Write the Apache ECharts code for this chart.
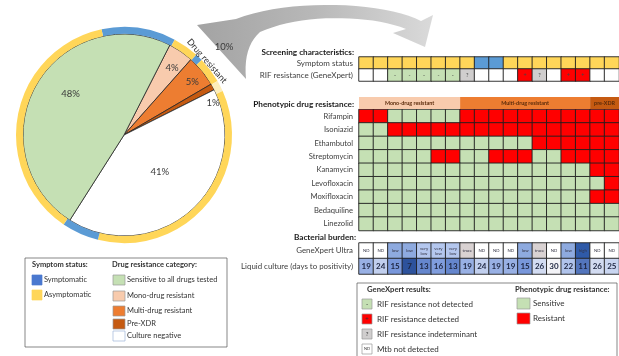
<!DOCTYPE html>
<html>
<head>
<meta charset="utf-8">
<script src="https://cdn.jsdelivr.net/npm/echarts@6/dist/echarts.min.js"></script>
<style>
html, body { margin: 0; padding: 0; background: #fff; }
#chart { width: 619px; height: 356px; }
</style>
</head>
<body>
<div id="chart"></div>
<script>
// patients (columns of the table)
var patients = ['1', '2', '3', '4', '5', '6', '7', '8', '9', '10', '11', '12', '13', '14', '15', '16', '17', '18'];

// screening characteristics
var screeningRows = ['Symptom status', 'RIF resistance (GeneXpert)'];
var symptomStatus = ['A', 'A', 'A', 'A', 'A', 'A', 'A', 'A', 'S', 'S', 'A', 'A', 'A', 'A', 'A', 'A', 'A', 'A'];
var rifXpert = ['', '', '-', '-', '-', '-', '-', '?', '', '', '', '+', '?', '', '+', '+', '', ''];

// phenotypic drug resistance (1 = resistant)
var resistanceGroups = ['Mono-drug resistant', 'Multi-drug resistant', 'pre-XDR'];
var groupSizes = [7, 9, 2];
var drugRows = ['Rifampin', 'Isoniazid', 'Ethambutol', 'Streptomycin', 'Kanamycin', 'Levofloxacin', 'Moxifloxacin', 'Bedaquiline', 'Linezolid'];
var rifampin     = [1, 1, 0, 0, 0, 0, 0, 1, 1, 1, 1, 1, 1, 1, 1, 1, 1, 1];
var isoniazid    = [0, 0, 1, 1, 1, 1, 1, 1, 1, 1, 1, 1, 1, 1, 1, 1, 1, 1];
var ethambutol   = [0, 0, 0, 0, 0, 0, 0, 0, 0, 0, 0, 0, 1, 1, 1, 1, 1, 1];
var streptomycin = [0, 0, 0, 0, 0, 1, 1, 0, 0, 1, 1, 1, 0, 0, 1, 1, 1, 1];
var kanamycin    = [0, 0, 0, 0, 0, 0, 0, 0, 0, 0, 0, 0, 0, 0, 0, 0, 1, 1];
var levofloxacin = [0, 0, 0, 0, 0, 0, 0, 0, 0, 0, 0, 0, 0, 0, 0, 0, 0, 1];
var moxifloxacin = [0, 0, 0, 0, 0, 0, 0, 0, 0, 0, 0, 0, 0, 0, 0, 0, 1, 1];
var bedaquiline  = [0, 0, 0, 0, 0, 0, 0, 0, 0, 0, 0, 0, 0, 0, 0, 0, 0, 0];
var linezolid    = [0, 0, 0, 0, 0, 0, 0, 0, 0, 0, 0, 0, 0, 0, 0, 0, 0, 0];

// bacterial burden
var burdenRows = ['GeneXpert Ultra', 'Liquid culture (days to positivity)'];
var xpertUltra = ['ND', 'ND', 'low', 'low', 'very low', 'very low', 'very low', 'trace', 'ND', 'ND', 'ND', 'low', 'trace', 'ND', 'low', 'high', 'ND', 'ND'];
var cultureDays = [19, 24, 15, 7, 13, 16, 13, 19, 24, 19, 19, 15, 26, 30, 22, 11, 26, 25];

// pie: drug resistance category (%)
var pieCategories = ['Mono-drug resistant', 'Multi-drug resistant', 'Pre-XDR', 'Culture negative', 'Sensitive to all drugs tested'];
var pieValues = [4, 5, 1, 41, 48];
// outer ring: symptom status, in degrees clockwise from the top-left blue arc
var ringStatus = ['S', 'A', 'S', 'A', 'pale', 'A', 'S', 'A'];
var ringDegrees = [40, 14, 4, 14, 6, 128, 20, 134];

var FONT = 'Lato, "Liberation Sans", sans-serif';
var GREEN = '#c5e0b4', RED = '#ff0000';
var symptomColors = { A: '#ffd659', S: '#5b9bd5', pale: '#fdeebb' };
var xpertColors = { '': '#ffffff', '-': GREEN, '+': RED, '?': '#d0cece' };
var ultraColors = { 'ND': '#ffffff', 'trace': '#d9d2d2', 'very low': '#b4c7ee', 'low': '#8eaadf', 'high': '#2f5aa8' };
var groupColors = ['#f8cbad', '#ed7d31', '#c55a11'];
var pieColors = ['#f8cbad', '#ed7d31', '#c55a11', '#ffffff', GREEN];
var pieLabelOffsets = [[18, -23], [27, -19], [42, -7], [0, -3], [-7, -15]];

function cells(values, row, colorOf, labelOf) {
    return values.map(function (v, i) {
        var item = { value: [i, row, typeof v === 'number' ? v : 0], name: labelOf ? labelOf(v) : '' };
        if (colorOf) item.itemStyle = { color: colorOf(v) };
        return item;
    });
}

var drugData = [];
[rifampin, isoniazid, ethambutol, streptomycin, kanamycin, levofloxacin, moxifloxacin, bedaquiline, linezolid].forEach(function (row, r) {
    drugData = drugData.concat(cells(row, r, function (v) { return v ? RED : GREEN; }));
});

var COLS_LEFT = 359, COLS_WIDTH = 261;
function grid(top, height) {
    return { left: COLS_LEFT, top: top, width: COLS_WIDTH, height: height };
}
function rowAxis(gi, rows, size) {
    return {
        type: 'category', gridIndex: gi, data: rows, inverse: true,
        axisLine: { show: false }, axisTick: { show: false },
        axisLabel: { fontSize: size || 7.6, color: '#404040', margin: 6, fontFamily: FONT }
    };
}
var cellStyle = { borderColor: '#1f1f1f', borderWidth: 0.9 };

var headerBars = resistanceGroups.map(function (g, i) {
    return {
        type: 'bar', name: g, xAxisIndex: 1, yAxisIndex: 1, stack: 'grp', barWidth: '100%',
        data: [groupSizes[i]], silent: true,
        itemStyle: { color: groupColors[i] },
        label: { show: true, position: 'inside', formatter: '{a}', fontSize: 5.4, fontWeight: 'bold', color: '#5a2a0a', fontFamily: FONT }
    };
});

function txt(x, y, text, opt) {
    opt = opt || {};
    return {
        type: 'text', x: x, y: y, rotation: opt.rotation || 0, z: 20,
        style: {
            text: text, fill: opt.color || '#333', fontSize: opt.size || 7.5, fontFamily: FONT,
            fontWeight: opt.bold ? 'bold' : 'normal', align: opt.align || 'left', verticalAlign: 'middle'
        }
    };
}
function box(x, y, w, h, fill, stroke) {
    return { type: 'rect', z: 20, shape: { x: x, y: y, width: w, height: h }, style: { fill: fill, stroke: stroke || '#9a9a9a', lineWidth: 0.7 } };
}

// outline of the grey "drug resistant" arrow, sampled from bezier pieces
function arrowOutline() {
    var pts = [[197, 25], [246, 79]];
    function quad(p0, c, p1) {
        for (var t = 0.1; t <= 1.001; t += 0.1) {
            var u = 1 - t;
            pts.push([u * u * p0[0] + 2 * u * t * c[0] + t * t * p1[0], u * u * p0[1] + 2 * u * t * c[1] + t * t * p1[1]]);
        }
    }
    function cubic(p0, c1, c2, p1) {
        for (var t = 0.05; t <= 1.001; t += 0.05) {
            var u = 1 - t;
            pts.push([
                u * u * u * p0[0] + 3 * u * u * t * c1[0] + 3 * u * t * t * c2[0] + t * t * t * p1[0],
                u * u * u * p0[1] + 3 * u * u * t * c1[1] + 3 * u * t * t * c2[1] + t * t * t * p1[1]
            ]);
        }
    }
    quad([246, 79], [243, 47], [260, 32]);
    cubic([260, 32], [300, 14], [368, 14], [406, 29]);
    pts.push([393, 33], [425, 47], [433, 15], [421, 21]);
    cubic([421, 21], [385, 2], [290, -2], [236, 19]);
    return pts;
}

var graphics = [
    {
        type: 'polygon', z: 5,
        shape: { points: arrowOutline() },
        style: { fill: { type: 'linear', x: 0, y: 0, x2: 1, y2: 0, colorStops: [
            { offset: 0, color: '#a3a3a3' }, { offset: 0.5, color: '#b8b8b8' }, { offset: 1, color: '#dadada' }
        ] } }
    },
    txt(224, 47, '10%', { size: 9.5, color: '#3a3a3a', align: 'center' }),
    txt(207, 61, 'Drug resistant', { size: 9, color: '#333', align: 'center', rotation: -0.85 }),
    txt(354, 52, 'Screening characteristics:', { bold: true, size: 8.2, align: 'right', color: '#1a1a1a' }),
    txt(354, 104, 'Phenotypic drug resistance:', { bold: true, size: 8.2, align: 'right', color: '#1a1a1a' }),
    txt(356, 237, 'Bacterial burden:', { bold: true, size: 8.2, align: 'right', color: '#1a1a1a' }),

    // left legend
    box(25, 258, 202, 89, 'none', '#555'),
    txt(32, 265, 'Symptom status:', { bold: true }),
    box(32, 275, 10, 10, '#4a78cf', '#4a78cf'), txt(44, 280, 'Symptomatic'),
    box(32, 290, 10, 10, '#ffd659', '#ffd659'), txt(44, 295, 'Asymptomatic'),
    txt(112, 265, 'Drug resistance category:', { bold: true }),
    box(113, 275, 12, 10, GREEN), txt(127, 280, 'Sensitive to all drugs tested'),
    box(113, 291, 12, 10, '#f8cbad'), txt(127, 296, 'Mono-drug resistant'),
    box(113, 306, 12, 10, '#ed7d31'), txt(127, 311, 'Multi-drug resistant'),
    box(113, 319, 12, 10, '#c55a11'), txt(127, 324, 'Pre-XDR'),
    box(113, 331, 12, 10, '#ffffff', '#9db4d8'), txt(127, 336, 'Culture negative'),

    // right legend
    box(357, 283, 260, 80, 'none', '#555'),
    txt(367, 290, 'GeneXpert results:', { bold: true, size: 7.7 }),
    box(362, 299, 10, 10, GREEN), txt(367, 304, '-', { align: 'center', size: 6 }), txt(377, 304, 'RIF resistance not detected', { size: 8 }),
    box(362, 314, 10, 10, RED), txt(367, 319, '+', { align: 'center', size: 6 }), txt(377, 319, 'RIF resistance detected', { size: 8 }),
    box(362, 329, 10, 10, '#d0cece'), txt(367, 334, '?', { align: 'center', size: 6 }), txt(377, 334, 'RIF resistance indeterminant', { size: 8 }),
    box(362, 344, 10, 10, '#ffffff'), txt(367, 349, 'ND', { align: 'center', size: 4 }), txt(377, 349, 'Mtb not detected', { size: 8 }),
    txt(515, 290, 'Phenotypic drug resistance:', { bold: true, size: 7.7 }),
    box(517, 298, 13, 11, GREEN), txt(533, 303, 'Sensitive', { size: 8 }),
    box(517, 313, 13, 11, RED), txt(533, 318, 'Resistant', { size: 8 })
];

var chart = echarts.init(document.getElementById('chart'));
chart.setOption({
    animation: false,
    textStyle: { fontFamily: FONT },
    grid: [grid(57, 24), grid(97, 12), grid(109.5, 121), grid(243, 31)],
    xAxis: [
        { type: 'category', gridIndex: 0, data: patients, show: false },
        { type: 'value', gridIndex: 1, min: 0, max: 18, show: false },
        { type: 'category', gridIndex: 2, data: patients, show: false },
        { type: 'category', gridIndex: 3, data: patients, show: false }
    ],
    yAxis: [
        rowAxis(0, screeningRows, 8),
        { type: 'category', gridIndex: 1, data: ['groups'], show: false },
        rowAxis(2, drugRows),
        rowAxis(3, burdenRows, 7.9)
    ],
    visualMap: {
        type: 'continuous', show: false, seriesIndex: 6, dimension: 2, min: 7, max: 30,
        inRange: { color: ['#2d529c', '#7595da', '#b3c5ec', '#f3f3f7'] }
    },
    series: [
        {
            type: 'heatmap', xAxisIndex: 0, yAxisIndex: 0, silent: true, itemStyle: cellStyle,
            data: cells(symptomStatus, 0, function (v) { return symptomColors[v]; })
                .concat(cells(rifXpert, 1, function (v) { return xpertColors[v]; }, function (v) { return v; })),
            label: { show: true, formatter: '{b}', fontSize: 5.5, color: '#444' }
        }
    ].concat(headerBars).concat([
        {
            type: 'heatmap', xAxisIndex: 2, yAxisIndex: 2, silent: true, itemStyle: cellStyle,
            data: drugData
        },
        {
            type: 'heatmap', xAxisIndex: 3, yAxisIndex: 3, silent: true, itemStyle: cellStyle,
            data: cells(xpertUltra, 0, function (v) { return ultraColors[v]; }, function (v) { return v.replace(' ', '\n'); }),
            label: { show: true, formatter: '{b}', fontSize: 4.3, lineHeight: 4.8, color: '#334' }
        },
        {
            type: 'heatmap', xAxisIndex: 3, yAxisIndex: 3, silent: true, itemStyle: cellStyle,
            data: cells(cultureDays, 1),
            label: {
                show: true, fontSize: 8, fontWeight: 'bold', color: '#1d2540',
                formatter: function (p) { return p.value[2]; }
            }
        },
        {
            type: 'pie', center: [124, 135], radius: [0, 101], startAngle: 63, silent: true,
            itemStyle: { borderColor: '#262626', borderWidth: 0.8 },
            label: { show: true, position: 'inside', formatter: '{c}%', fontSize: 9.5, color: '#3a3a3a', fontFamily: FONT },
            data: pieCategories.map(function (n, i) {
                return { name: n, value: pieValues[i], itemStyle: { color: pieColors[i] }, label: { offset: pieLabelOffsets[i] } };
            })
        },
        {
            type: 'pie', center: [124, 135], radius: [101, 108], startAngle: 102, silent: true,
            label: { show: false }, labelLine: { show: false },
            data: ringDegrees.map(function (d, i) {
                return { name: 'ring' + i, value: d, itemStyle: { color: symptomColors[ringStatus[i]] } };
            })
        }
    ]),
    graphic: graphics
});
</script>
</body>
</html>
